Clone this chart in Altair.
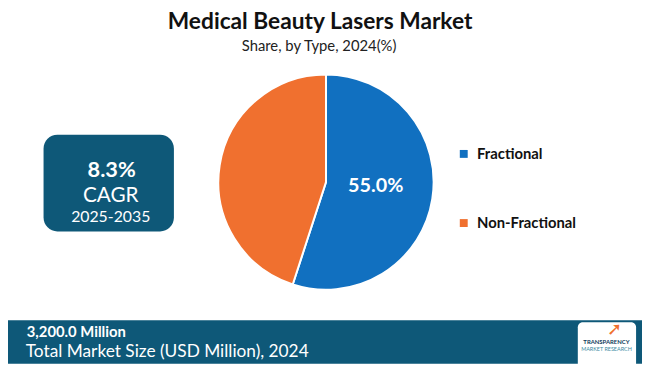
import altair as alt
import pandas as pd

# ---- data ----
categories = ["Fractional", "Non-Fractional"]
shares = [55.0, 45.0]
slice_labels = ["55.0%", ""]
colors = ["#1170C0", "#F0702F"]

title_text = "Medical Beauty Lasers Market"
subtitle_text = "Share, by Type, 2024(%)"
cagr_value = "8.3%"
cagr_label = "CAGR"
cagr_period = "2025-2035"
market_value = "3,200.0 Million"
market_label = "Total Market Size (USD Million), 2024"

TEAL = "#0E5878"
OFF = 8  # page margin

pie_df = pd.DataFrame({"Type": categories, "Share": shares, "Label": slice_labels})
one = pd.DataFrame({"a": [0]})

W, H = 642, 358
CX, CY, R = 330 - OFF, 182 - OFF, 109


def px(v):
    return alt.value(v - OFF)


base = alt.Chart(pie_df)

pie = base.mark_arc(outerRadius=R, stroke="white", strokeWidth=2).encode(
    theta=alt.Theta("Share:Q", stack=True),
    color=alt.Color(
        "Type:N",
        scale=alt.Scale(domain=categories, range=colors),
        sort=categories,
        legend=alt.Legend(
            title=None,
            orient="none",
            legendX=462 - OFF,
            legendY=146 - OFF,
            symbolType="square",
            symbolSize=64,
            symbolStrokeWidth=0,
            labelFont="Lato",
            labelFontWeight="bold",
            labelFontSize=15,
            labelColor="#111111",
            rowPadding=54,
            labelOffset=6,
        ),
    ),
    order=alt.Order("Share:Q", sort="descending"),
    x=alt.value(CX),
    y=alt.value(CY),
)

pie_text = base.mark_text(
    radius=51, dy=-4, font="Lato", fontWeight="bold", fontSize=20, color="white"
).encode(
    theta=alt.Theta("Share:Q", stack=True),
    text="Label:N",
    order=alt.Order("Share:Q", sort="descending"),
    x=alt.value(CX),
    y=alt.value(CY),
)

title = alt.Chart(one).mark_text(
    text=title_text, font="Lato", fontWeight="bold", fontSize=23, color="#111111",
    align="center", baseline="middle"
).encode(x=px(324), y=px(20))

subtitle = alt.Chart(one).mark_text(
    text=subtitle_text, font="Lato", fontSize=15, color="#222222",
    align="center", baseline="middle"
).encode(x=px(323), y=px(44))

cagr_box = alt.Chart(one).mark_rect(color=TEAL, cornerRadius=14).encode(
    x=px(44), x2=px(176), y=px(134), y2=px(232)
)
cagr_t1 = alt.Chart(one).mark_text(
    text=cagr_value, font="Lato", fontWeight="bold", fontSize=22, color="white",
    align="center", baseline="middle"
).encode(x=px(113), y=px(170))
cagr_t2 = alt.Chart(one).mark_text(
    text=cagr_label, font="Lato", fontSize=21, color="white",
    align="center", baseline="middle"
).encode(x=px(112), y=px(196))
cagr_t3 = alt.Chart(one).mark_text(
    text=cagr_period, font="Lato", fontSize=16, color="white",
    align="center", baseline="middle"
).encode(x=px(112), y=px(217))

banner = alt.Chart(one).mark_rect(color=TEAL).encode(
    x=alt.value(-OFF), x2=alt.value(W), y=px(322), y2=alt.value(H)
)
b_t1 = alt.Chart(one).mark_text(
    text=market_value, font="Lato", fontWeight="bold", fontSize=15, color="white",
    align="left", baseline="middle"
).encode(x=px(27), y=px(334))
b_t2 = alt.Chart(one).mark_text(
    text=market_label, font="Lato", fontSize=17.5, color="white",
    align="left", baseline="middle"
).encode(x=px(26), y=px(354))

logo_box = alt.Chart(one).mark_rect(color="white", cornerRadius=5).encode(
    x=px(585), x2=px(644), y=px(324), y2=px(372)
)
logo_arrow = alt.Chart(one).mark_text(
    text="➚", fontSize=18, color="#F0702F", align="center", baseline="middle"
).encode(x=px(622), y=px(332))
logo_t1 = alt.Chart(one).mark_text(
    text="TRANSPARENCY", font="Lato", fontWeight="bold", fontSize=6, color="#0E3A5A",
    align="center", baseline="middle"
).encode(x=px(614), y=px(344))
logo_t2 = alt.Chart(one).mark_text(
    text="MARKET RESEARCH", font="Lato", fontSize=5.5, color="#3A8AA0",
    align="center", baseline="middle"
).encode(x=px(614), y=px(351))

chart = alt.layer(
    banner, cagr_box, pie, pie_text, title, subtitle,
    cagr_t1, cagr_t2, cagr_t3, b_t1, b_t2,
    logo_box, logo_arrow, logo_t1, logo_t2,
).properties(
    width=W, height=H, padding=0, autosize=alt.AutoSizeParams(type="none"),
    background="white",
).configure_view(stroke=None)

chart.save("out.html", embed_options={"renderer": "svg", "actions": False})
